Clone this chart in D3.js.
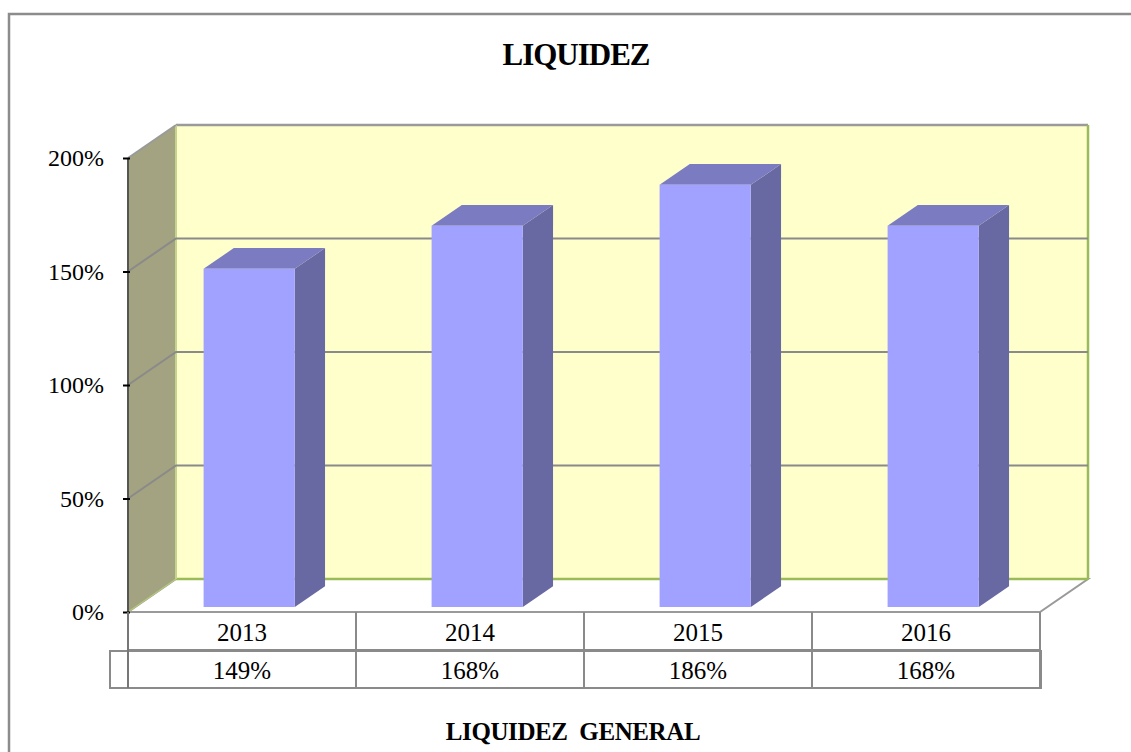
<!DOCTYPE html>
<html>
<head>
<meta charset="utf-8">
<script src="https://cdn.jsdelivr.net/npm/d3@7"></script>
<style>
  html, body { margin: 0; padding: 0; background: #fff; }
  svg { display: block; }
  text { font-family: "Liberation Serif", "Times New Roman", serif; fill: #000; }
</style>
</head>
<body>
<svg id="chart" width="1131" height="752"></svg>
<script>
// ---- data ----
const categories = ["2013", "2014", "2015", "2016"];
const values = [1.49, 1.68, 1.86, 1.68];
const valueLabels = ["149%", "168%", "186%", "168%"];
const yTicks = [0, 0.5, 1, 1.5, 2];
const chartTitle = "LIQUIDEZ";
const xTitle = "LIQUIDEZ  GENERAL";

const svg = d3.select("#chart");
const W = 1131, H = 752;

// outer frame
svg.append("rect").attr("x", 9).attr("y", 14).attr("width", W).attr("height", H)
  .attr("fill", "#fff").attr("stroke", "#8c8c8c").attr("stroke-width", 2.5);

// scales
const x = d3.scaleBand().domain(categories).range([128, 1040]);
const y = d3.scaleLinear().domain([0, 2]).range([612, 158]);
const DX = 48, DY = -33; // full depth offset
const P = (px, py, d) => [px + DX * d, py + DY * d];
const poly = pts => "M" + pts.map(p => p.join(",")).join("L") + "Z";

const xl = 128, xr = 1040;
// floor
svg.append("path")
  .attr("d", poly([P(xl, y(0), 0), P(xl, y(0), 1), P(xr, y(0), 1), P(xr, y(0), 0)]))
  .attr("fill", "#fff").attr("stroke", "#9a9a9a").attr("stroke-width", 2);

// back wall
svg.append("path")
  .attr("d", poly([P(xl, y(0), 1), P(xl, y(2), 1), P(xr, y(2), 1), P(xr, y(0), 1)]))
  .attr("fill", "#FFFFCC").attr("stroke", "none");
svg.append("line").attr("x1", P(xl, 0, 1)[0]).attr("x2", P(xr, 0, 1)[0])
  .attr("y1", P(0, y(2), 1)[1]).attr("y2", P(0, y(2), 1)[1])
  .attr("stroke", "#9a9a9a").attr("stroke-width", 2.5);
svg.append("line").attr("x1", P(xr, 0, 1)[0]).attr("x2", P(xr, 0, 1)[0])
  .attr("y1", P(0, y(2), 1)[1]).attr("y2", P(0, y(0), 1)[1])
  .attr("stroke", "#9BBB59").attr("stroke-width", 2.5);
svg.append("line").attr("x1", P(xl, 0, 1)[0]).attr("x2", P(xr, 0, 1)[0])
  .attr("y1", P(0, y(0), 1)[1]).attr("y2", P(0, y(0), 1)[1])
  .attr("stroke", "#9BBB59").attr("stroke-width", 2.5);

// left wall
svg.append("path")
  .attr("d", poly([P(xl, y(0), 0), P(xl, y(2), 0), P(xl, y(2), 1), P(xl, y(0), 1)]))
  .attr("fill", "#A3A281").attr("stroke", "none");
svg.append("line").attr("x1", P(xl, 0, 1)[0]).attr("x2", P(xl, 0, 1)[0])
  .attr("y1", P(0, y(2), 1)[1]).attr("y2", P(0, y(0), 1)[1])
  .attr("stroke", "#C4D48A").attr("stroke-width", 2);
svg.append("line").attr("x1", P(xl, y(2), 0)[0]).attr("y1", P(xl, y(2), 0)[1])
  .attr("x2", P(xl, y(2), 1)[0]).attr("y2", P(xl, y(2), 1)[1])
  .attr("stroke", "#9a9a9a").attr("stroke-width", 2);
svg.append("line").attr("x1", P(xl, y(0), 0)[0]).attr("y1", P(xl, y(0), 0)[1])
  .attr("x2", P(xl, y(0), 1)[0]).attr("y2", P(xl, y(0), 1)[1])
  .attr("stroke", "#B5C77A").attr("stroke-width", 1.5);

// gridlines
yTicks.filter(t => t > 0 && t < 2).forEach(t => {
  const a = P(xl, y(t), 0), b = P(xl, y(t), 1), c = P(xr, y(t), 1);
  svg.append("path").attr("d", "M" + a + "L" + b + "L" + c)
    .attr("fill", "none").attr("stroke", "#8a8a8a").attr("stroke-width", 2);
});

// y axis line and ticks
svg.append("line").attr("x1", xl).attr("x2", xl).attr("y1", y(2)).attr("y2", y(0))
  .attr("stroke", "#555").attr("stroke-width", 2);
const yAxis = d3.axisLeft(y).tickValues(yTicks).tickSize(6).tickPadding(18)
  .tickFormat(d => Math.round(d * 100) + "%");
const ga = svg.append("g").attr("transform", `translate(${xl},0)`).call(yAxis);
ga.select(".domain").remove();
ga.selectAll(".tick line").attr("stroke", "#000").attr("stroke-width", 2).attr("x2", -5).attr("x1", 2);
ga.selectAll(".tick text").attr("font-size", 24).attr("font-family", "Liberation Serif").attr("fill", "#000");

// bars
const d0 = 0.15, d1 = 0.78;
const bw = x.bandwidth() * 0.40;
const bars = svg.append("g");
categories.forEach((c, i) => {
  const bx0 = x(c) + (x.bandwidth() - bw) / 2, bx1 = bx0 + bw;
  const yt = y(values[i]), yb = y(0);
  bars.append("path").attr("d", poly([P(bx1, yb, d0), P(bx1, yt, d0), P(bx1, yt, d1), P(bx1, yb, d1)]))
    .attr("fill", "#6868A3");
  bars.append("path").attr("d", poly([P(bx0, yt, d0), P(bx0, yt, d1), P(bx1, yt, d1), P(bx1, yt, d0)]))
    .attr("fill", "#7B7BC1");
  bars.append("path").attr("d", poly([P(bx0, yb, d0), P(bx0, yt, d0), P(bx1, yt, d0), P(bx1, yb, d0)]))
    .attr("fill", "#A1A1FF");
});

// data table
const r1t = 612, r1b = 650, r2t = 651, r2b = 688;
const tbl = svg.append("g").attr("stroke", "#8a8a8a").attr("stroke-width", 2).attr("fill", "none");
tbl.append("line").attr("x1", xl).attr("x2", xr).attr("y1", r1b).attr("y2", r1b);
tbl.append("rect").attr("x", 110).attr("y", r2t).attr("width", xr + 1 - 110).attr("height", r2b - r2t);
categories.forEach(c => {
  tbl.append("line").attr("x1", x(c) + x.bandwidth()).attr("x2", x(c) + x.bandwidth())
    .attr("y1", r1t).attr("y2", r2b);
});
tbl.append("line").attr("x1", xl).attr("x2", xl).attr("y1", r1t).attr("y2", r2b).attr("stroke", "#777");

svg.append("g").selectAll("text.cat").data(categories).join("text")
  .attr("x", d => x(d) + x.bandwidth() / 2).attr("y", (r1t + r1b) / 2 + 1)
  .attr("text-anchor", "middle").attr("dominant-baseline", "central")
  .attr("font-size", 25).text(d => d);
svg.append("g").selectAll("text.val").data(valueLabels).join("text")
  .attr("x", (d, i) => x(categories[i]) + x.bandwidth() / 2).attr("y", (r2t + r2b) / 2 + 1)
  .attr("text-anchor", "middle").attr("dominant-baseline", "central")
  .attr("font-size", 25).text(d => d);

// titles
svg.append("text").attr("x", 576).attr("y", 65).attr("text-anchor", "middle")
  .attr("font-size", 31).attr("font-weight", "bold").attr("letter-spacing", -1).text(chartTitle);
svg.append("text").attr("x", 573).attr("y", 740).attr("text-anchor", "middle")
  .attr("font-size", 25).attr("font-weight", "bold").attr("letter-spacing", -0.4)
  .style("white-space", "pre").text(xTitle);
</script>
</body>
</html>
